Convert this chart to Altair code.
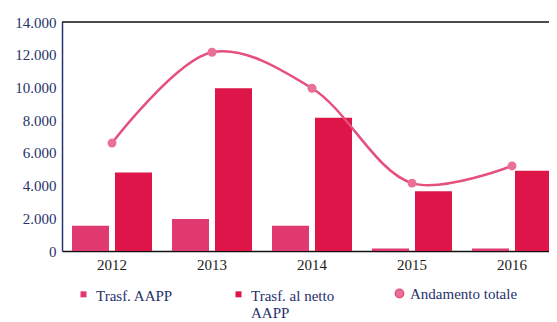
import altair as alt
import pandas as pd

years = ["2012", "2013", "2014", "2015", "2016"]
series = ["Trasf. AAPP", "Trasf. al netto AAPP"]
aapp = [1550, 1950, 1550, 150, 150]
netto = [4800, 9950, 8150, 3650, 4900]
totale = [6600, 12150, 9950, 4150, 5200]
line_name = "Andamento totale"
y_ticks = [0, 2000, 4000, 6000, 8000, 10000, 12000, 14000]

bars_df = pd.DataFrame(
    [{"anno": y, "serie": series[0], "valore": v} for y, v in zip(years, aapp)]
    + [{"anno": y, "serie": series[1], "valore": v} for y, v in zip(years, netto)]
)
line_df = pd.DataFrame({"anno": years, "valore": totale, "s2": [line_name] * len(years)})

FONT = "Liberation Serif"
NAVY = "#27316b"
C_AAPP = "#e0396f"
C_NETTO = "#de1549"
C_LINE = "#e5507c"
C_POINT = "#ea7096"

# square marker lifted so it sits beside the first line of a two-line label
LIFTED_SQUARE = "M-0.95,-1.4H0.95V0.5H-0.95Z"

x_enc = alt.X("anno:N", sort=years, title=None,
              scale=alt.Scale(range=[0, 500], paddingInner=0.2, paddingOuter=0.1))
y_enc = alt.Y("valore:Q", title=None, scale=alt.Scale(domain=[0, 14000], nice=False),
              axis=alt.Axis(values=y_ticks))

bars = alt.Chart(bars_df).mark_bar().encode(
    x=x_enc,
    xOffset=alt.XOffset("serie:N", sort=series, scale=alt.Scale(paddingInner=0.14, paddingOuter=0)),
    y=y_enc,
    color=alt.Color(
        "serie:N",
        scale=alt.Scale(domain=series, range=[C_AAPP, C_NETTO]),
        legend=alt.Legend(
            title=None, orient="none", legendX=14, legendY=266,
            direction="horizontal", columns=2, symbolType=LIFTED_SQUARE,
            symbolSize=40, symbolStrokeWidth=0, symbolFillColor="#e6467f",
            columnPadding=58, labelOffset=5,
            labelFont=FONT, labelFontSize=15, labelFontWeight="normal", labelColor=NAVY,
            labelExpr="datum.label == 'Trasf. al netto AAPP' ? ['Trasf. al netto', 'AAPP'] : [datum.label, ' ']",
        ),
    ),
)

line = alt.Chart(line_df).mark_line(
    interpolate="catmull-rom", strokeWidth=2.5, color=C_LINE
).encode(x=x_enc, y=y_enc)

points = alt.Chart(line_df).mark_point(filled=True, size=80, opacity=1).encode(
    x=x_enc,
    y=y_enc,
    color=alt.Color(
        "s2:N",
        scale=alt.Scale(domain=[line_name], range=[C_POINT]),
        legend=alt.Legend(
            title=None, orient="none", legendX=330, legendY=264,
            symbolType="circle", symbolSize=70, symbolFillColor=C_POINT,
            symbolStrokeColor=C_LINE, symbolStrokeWidth=1.5, labelOffset=3,
            labelFont=FONT, labelFontSize=15, labelFontWeight="normal", labelColor=NAVY,
        ),
    ),
)

top_rule = alt.Chart(pd.DataFrame({"v": [y_ticks[-1]]})).mark_rule(
    color="#111111", strokeWidth=1.5
).encode(y=alt.Y("v:Q", title=None, scale=alt.Scale(domain=[0, 14000], nice=False),
                 axis=alt.Axis(values=y_ticks)))

chart = (
    alt.layer(bars, top_rule, line, points)
    .resolve_scale(color="independent")
    .properties(
        width=487,
        height=229,
        autosize=alt.AutoSizeParams(type="none"),
        padding={"left": 54, "top": 14, "right": 0, "bottom": 70},
        background="white",
    )
    .configure_view(stroke=None)
    .configure_axis(
        labelFont=FONT, labelFontSize=15, grid=False, ticks=False,
        labelPadding=6, domainWidth=1.5, labelOverlap=False,
    )
    .configure_axisX(labelAngle=0, labelColor="#1c1c1c", domainColor="#111111")
    .configure_axisY(
        labelColor=NAVY, domainColor=NAVY,
        labelExpr="replace(format(datum.value, ','), ',', '.')",
    )
    .configure_legend(
        labelFont=FONT, labelFontSize=15, labelFontWeight="normal",
        labelColor=NAVY, labelLimit=300,
    )
)

chart.save("out.html", embed_options={"renderer": "svg", "actions": False})
